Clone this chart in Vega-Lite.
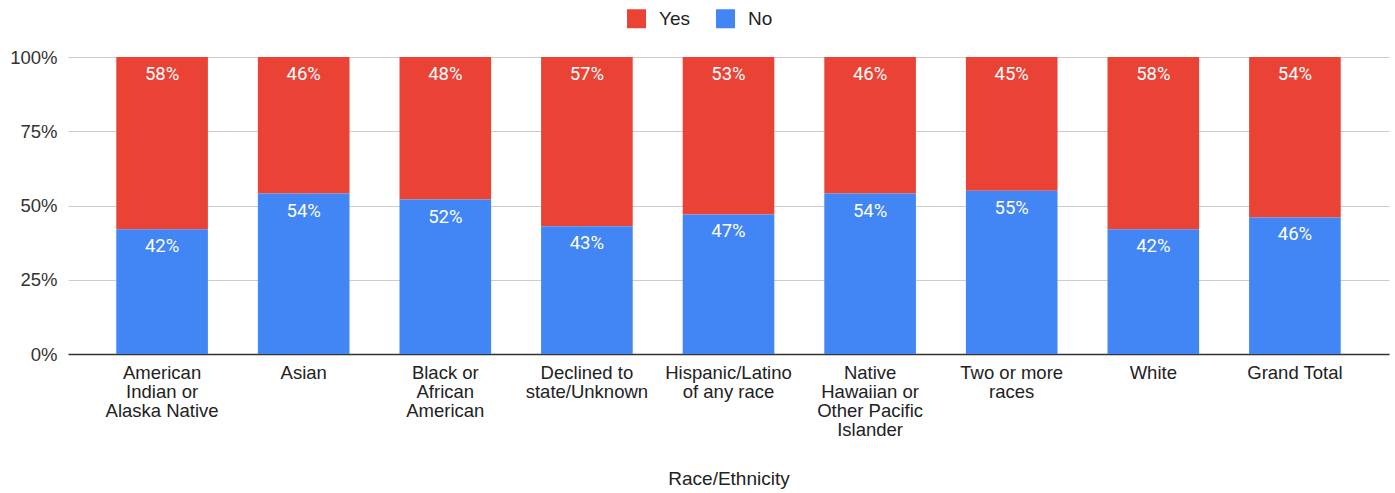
{
  "$schema": "https://vega.github.io/schema/vega-lite/v6.json",
  "width": 1321,
  "height": 297,
  "autosize": {"type": "none"},
  "padding": {"left": 68, "top": 57, "right": 6, "bottom": 139},
  "background": "white",
  "config": {
    "view": {"stroke": null},
    "font": "Liberation Sans",
    "axis": {"labelFont": "Liberation Sans", "titleFont": "Liberation Sans"}
  },
  "data": {
    "values": [
      {"group": "American Indian or Alaska Native", "answer": "Yes", "share": 0.58},
      {"group": "American Indian or Alaska Native", "answer": "No", "share": 0.42},
      {"group": "Asian", "answer": "Yes", "share": 0.46},
      {"group": "Asian", "answer": "No", "share": 0.54},
      {"group": "Black or African American", "answer": "Yes", "share": 0.48},
      {"group": "Black or African American", "answer": "No", "share": 0.52},
      {"group": "Declined to state/Unknown", "answer": "Yes", "share": 0.57},
      {"group": "Declined to state/Unknown", "answer": "No", "share": 0.43},
      {"group": "Hispanic/Latino of any race", "answer": "Yes", "share": 0.53},
      {"group": "Hispanic/Latino of any race", "answer": "No", "share": 0.47},
      {"group": "Native Hawaiian or Other Pacific Islander", "answer": "Yes", "share": 0.46},
      {"group": "Native Hawaiian or Other Pacific Islander", "answer": "No", "share": 0.54},
      {"group": "Two or more races", "answer": "Yes", "share": 0.45},
      {"group": "Two or more races", "answer": "No", "share": 0.55},
      {"group": "White", "answer": "Yes", "share": 0.58},
      {"group": "White", "answer": "No", "share": 0.42},
      {"group": "Grand Total", "answer": "Yes", "share": 0.54},
      {"group": "Grand Total", "answer": "No", "share": 0.46}
    ]
  },
  "encoding": {
    "x": {
      "field": "group",
      "type": "nominal",
      "sort": null,
      "scale": {"paddingInner": 0.353, "paddingOuter": 0.341},
      "axis": {
        "title": "Race/Ethnicity",
        "titleFontSize": 19,
        "titleFontWeight": "normal",
        "titleColor": "#222222",
        "titleY": 124,
        "titleBaseline": "middle",
        "labelAngle": 0,
        "labelFontSize": 18.5,
        "labelColor": "#222222",
        "labelLineHeight": 19,
        "labelPadding": 9,
        "labelBaseline": "top",
        "ticks": false,
        "domainColor": "#333333",
        "domainWidth": 1.5,
        "labelExpr": "datum.value == 'American Indian or Alaska Native' ? ['American', 'Indian or', 'Alaska Native'] : datum.value == 'Black or African American' ? ['Black or', 'African', 'American'] : datum.value == 'Declined to state/Unknown' ? ['Declined to', 'state/Unknown'] : datum.value == 'Hispanic/Latino of any race' ? ['Hispanic/Latino', 'of any race'] : datum.value == 'Native Hawaiian or Other Pacific Islander' ? ['Native', 'Hawaiian or', 'Other Pacific', 'Islander'] : datum.value == 'Two or more races' ? ['Two or more', 'races'] : datum.value"
      }
    },
    "y": {
      "field": "share",
      "type": "quantitative",
      "stack": "zero",
      "scale": {"domain": [0, 1], "nice": false},
      "axis": {
        "title": null,
        "format": ".0%",
        "values": [0, 0.25, 0.5, 0.75, 1],
        "labelFontSize": 18.5,
        "labelColor": "#333333",
        "labelPadding": 11,
        "ticks": false,
        "domain": false,
        "gridColor": "#cccccc"
      }
    },
    "order": {"field": "answer", "sort": "ascending"}
  },
  "layer": [
    {
      "mark": {"type": "bar"},
      "encoding": {
        "color": {
          "field": "answer",
          "type": "nominal",
          "scale": {"domain": ["Yes", "No"], "range": ["#EA4335", "#4285F4"]},
          "legend": {
            "title": null,
            "orient": "none",
            "direction": "horizontal",
            "legendX": 559,
            "legendY": -48,
            "symbolType": "square",
            "symbolSize": 361,
            "symbolStrokeWidth": 0,
            "labelFont": "Liberation Sans",
            "labelFontSize": 19,
            "labelColor": "#222222",
            "columnPadding": 26,
            "labelOffset": 13
          }
        }
      }
    },
    {
      "mark": {"type": "text", "color": "white", "font": "Roboto", "fontWeight": "normal", "fontSize": 18.5, "dy": 17, "baseline": "middle"},
      "encoding": {
        "text": {"field": "share", "type": "quantitative", "format": ".0%"}
      }
    }
  ]
}
